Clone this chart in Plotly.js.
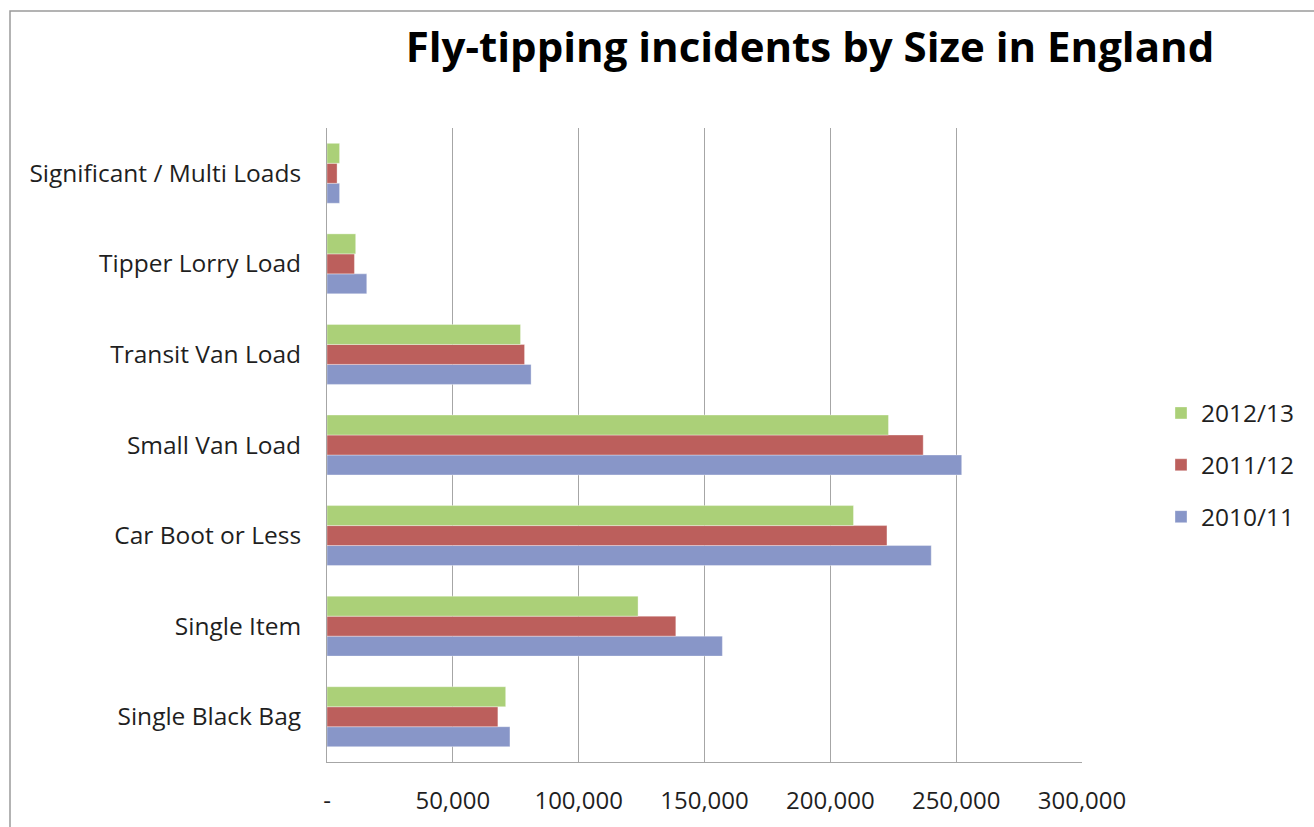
<!DOCTYPE html>
<html>
<head>
<meta charset="utf-8">
<script src="https://cdn.plot.ly/plotly-3.0.1.min.js"></script>
<style>
  html, body { margin: 0; padding: 0; background: #ffffff; }
  #chart { width: 1314px; height: 827px; }
</style>
</head>
<body>
<div id="chart"></div>
<script>
// Fly-tipping incidents in England, by size of load
const categories = [
  'Single Black Bag',
  'Single Item',
  'Car Boot or Less',
  'Small Van Load',
  'Transit Van Load',
  'Tipper Lorry Load',
  'Significant / Multi Loads'
];
const seriesNames = ['2010/11', '2011/12', '2012/13'];
const values2010 = [72700, 157100, 240100, 252200, 81100, 15800, 5000];
const values2011 = [67900, 138600, 222500, 236900, 78500, 10900, 4000];
const values2012 = [71000, 123600, 209200, 223100, 76900, 11400, 5000];
const seriesColors = ['#8896C8', '#BC5F5C', '#ABD078'];
// legend lists the newest year first
const legendRanks = [3, 2, 1];

const xTickVals = [0, 50000, 100000, 150000, 200000, 250000, 300000];
const xTickText = ['-', '50,000', '100,000', '150,000', '200,000', '250,000', '300,000'];

const FONT = '"Open Sans", "Liberation Sans", sans-serif';
const W = 1314, H = 827;
const M = { l: 327, r: 232, t: 128, b: 65 };
const plotW = W - M.l - M.r;
const plotH = H - M.t - M.b;

// convert page pixels into paper coordinates for the outer frame
const px2paperX = (px) => (px - M.l) / plotW;
const px2paperY = (py) => (H - M.b - py) / plotH;

const allValues = [values2010, values2011, values2012];
const traces = allValues.map((vals, i) => ({
  type: 'bar',
  orientation: 'h',
  name: seriesNames[i],
  legendgroup: seriesNames[i],
  legendrank: legendRanks[i],
  y: categories,
  x: vals,
  marker: {
    color: seriesColors[i],
    line: { color: 'rgba(255,255,255,0.35)', width: 1 }
  },
  hoverinfo: 'x+y+name'
}));

const layout = {
  width: W,
  height: H,
  margin: M,
  paper_bgcolor: '#ffffff',
  plot_bgcolor: '#ffffff',
  barmode: 'group',
  bargap: 0.338,
  bargroupgap: 0,
  font: { family: FONT, color: '#1f1f1f' },
  title: {
    text: '<b>Fly-tipping incidents by Size in England</b>',
    font: { family: FONT, size: 42, color: '#000000' },
    xref: 'container',
    x: 810 / W,
    xanchor: 'center',
    yref: 'container',
    y: 1 - 47 / H,
    yanchor: 'middle'
  },
  xaxis: {
    range: [0, 300000],
    tickvals: xTickVals,
    ticktext: xTickText,
    showgrid: true,
    gridcolor: '#a6a6a6',
    gridwidth: 1,
    showline: true,
    linecolor: '#a6a6a6',
    linewidth: 1,
    zeroline: false,
    ticks: '',
    ticklabelstandoff: 17,
    tickfont: { family: FONT, size: 24, color: '#1f1f1f' },
    fixedrange: true
  },
  yaxis: {
    type: 'category',
    categoryorder: 'array',
    categoryarray: categories,
    showgrid: false,
    showline: true,
    linecolor: '#a6a6a6',
    linewidth: 1,
    zeroline: false,
    ticks: '',
    ticklabelstandoff: 20,
    tickfont: { family: FONT, size: 24.5, color: '#1f1f1f' },
    fixedrange: true
  },
  legend: {
    x: px2paperX(1161),
    xanchor: 'left',
    y: px2paperY(465),
    yanchor: 'middle',
    traceorder: 'grouped',
    tracegroupgap: 17,
    font: { family: FONT, size: 24.5, color: '#1f1f1f' },
    bgcolor: 'rgba(0,0,0,0)',
    itemwidth: 30
  },
  shapes: [{
    type: 'rect',
    xref: 'paper', yref: 'paper',
    x0: px2paperX(10), x1: px2paperX(W + 20),
    y0: px2paperY(H + 20), y1: px2paperY(11),
    line: { color: '#9a9a9a', width: 1.5 },
    fillcolor: 'rgba(0,0,0,0)',
    layer: 'below'
  }],
  showlegend: true
};

Plotly.newPlot('chart', traces, layout, { displayModeBar: false, staticPlot: true });
</script>
</body>
</html>
